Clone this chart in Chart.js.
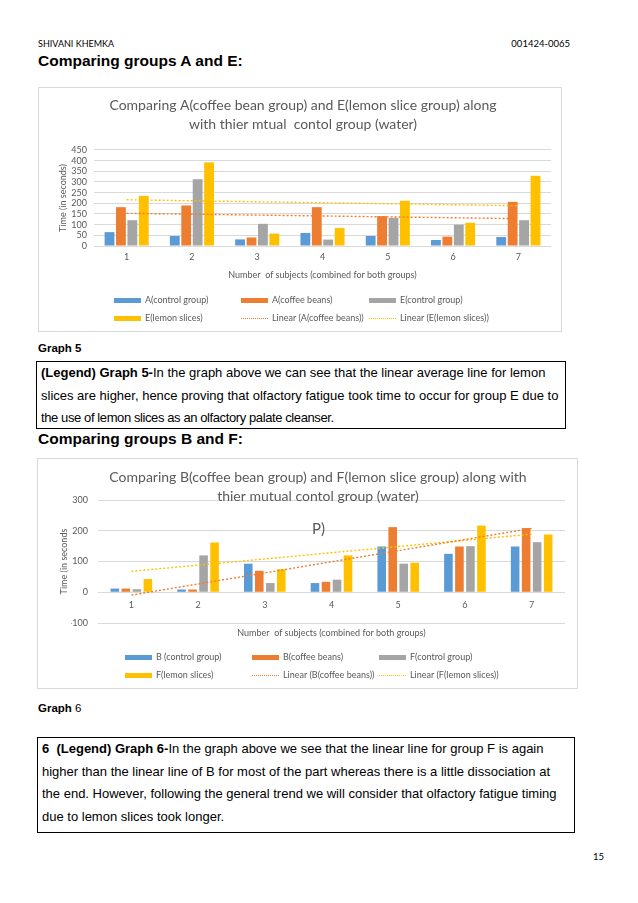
<!DOCTYPE html>
<html>
<head>
<meta charset="utf-8">
<script src="https://cdn.jsdelivr.net/npm/chart.js@4.4.1/dist/chart.umd.min.js"></script>
<style>
body { margin: 0; width: 638px; height: 903px; position: relative; overflow: hidden; background: #fff; font-family: "Liberation Sans", Arial, sans-serif; color: #000; }
.abs { position: absolute; white-space: nowrap; }
.small { font-family: Lato, "Open Sans", sans-serif; font-size: 9px; line-height: 12px; }
.head { font-weight: bold; font-size: 15.5px; line-height: 18px; }
.cap { font-size: 11.5px; line-height: 14px; }
.frame { position: absolute; border: 1px solid #d9d9d9; box-sizing: border-box; }
.frame canvas { position: absolute; left: 0; top: 0; }
.note { position: absolute; border: 1.3px solid #000; box-sizing: border-box; font-size: 13px; line-height: 22.6px; padding: 0 0 0 4px; }
.note div { white-space: nowrap; }
.lgi { position: absolute; height: 12px; line-height: 12px; font-family: Lato, "Open Sans", sans-serif; font-size: 9px; color: #595959; white-space: nowrap; display: flex; align-items: center; }
.sw { display: inline-block; width: 27px; height: 5px; margin-right: 4px; }
.sw.dot { height: 0; border-top: 1.3px dotted; }
.ptext { position: absolute; font-family: Lato, "Open Sans", sans-serif; font-size: 15px; color: #595959; }
</style>
</head>
<body>

<div class="abs small" style="left:38px; top:38px;">SHIVANI KHEMKA</div>
<div class="abs small" style="right:68px; top:38px; font-size:9.5px;">001424-0065</div>
<div class="abs head" style="left:38px; top:52px;">Comparing groups A and E:</div>

<div class="frame" style="left:38px; top:87px; width:524px; height:245px;">
  <canvas id="chart1" width="524" height="245"></canvas>
</div>
<div id="legend1"></div>

<div class="abs cap" style="left:38px; top:341px; font-weight:bold;">Graph 5</div>
<div class="note" style="left:36px; top:361px; width:530px; height:68px;">
  <div><b>(Legend) Graph 5-</b>In the graph above we can see that the linear average line for lemon</div>
  <div>slices are higher, hence proving that olfactory fatigue took time to occur for group E due to</div>
  <div style="letter-spacing:-0.4px;">the use of lemon slices as an olfactory palate cleanser.</div>
</div>

<div class="abs head" style="left:38px; top:430px;">Comparing groups B and F:</div>

<div class="frame" style="left:37px; top:458px; width:541px; height:231px;">
  <canvas id="chart2" width="541" height="231"></canvas>
</div>
<div class="ptext" style="left:312px; top:519px;">P)</div>
<div id="legend2"></div>

<div class="abs cap" style="left:38px; top:701px;"><b>Graph</b> 6</div>
<div class="note" style="left:37px; top:737px; width:538px; height:96px; padding-top:0;">
  <div><b>6&nbsp; (Legend) Graph 6-</b>In the graph above we see that the linear line for group F is again</div>
  <div>higher than the linear line of B for most of the part whereas there is a little dissociation at</div>
  <div>the end. However, following the general trend we will consider that olfactory fatigue timing</div>
  <div>due to lemon slices took longer.</div>
</div>

<div class="abs small" style="left:593px; top:851px; font-size:9.5px;">15</div>

<script>
const subjects = ['1', '2', '3', '4', '5', '6', '7'];

// Graph 5
const aControl = [65, 47, 31, 61, 47, 28, 42];
const aCoffee = [182, 190, 40, 182, 140, 44, 207];
const eControl = [121, 313, 104, 30, 132, 100, 121];
const eLemon = [235, 392, 58, 84, 212, 109, 329];
const yTicks1 = [0, 450, 50];

// Graph 6
const bControl = [12, 9, 93, 30, 149, 125, 149];
const bCoffee = [12, 9, 70, 34, 212, 149, 209];
const fControl = [10, 120, 30, 41, 93, 150, 163];
const fLemon = [43, 162, 75, 120, 96, 217, 188];
const yTicks2 = [-100, 300, 100];

const blue = '#5b9bd5', orange = '#ed7d31', grey = '#a5a5a5', yellow = '#ffc000';
const xTitle = 'Number  of subjects (combined for both groups)';

Chart.defaults.font.family = 'Lato, "Open Sans", sans-serif';
Chart.defaults.color = '#595959';
Chart.defaults.animation = false;

// least squares line, like the excel "Linear" trendline
function linear(values) {
  const n = values.length;
  let sx = 0, sy = 0, sxy = 0, sxx = 0;
  values.forEach((v, i) => { const x = i + 1; sx += x; sy += v; sxy += x * v; sxx += x * x; });
  const slope = (n * sxy - sx * sy) / (n * sxx - sx * sx);
  const b = (sy - slope * sx) / n;
  return values.map((v, i) => b + slope * (i + 1));
}

function bars(label, data, color) {
  return { type: 'bar', label: label, data: data, backgroundColor: color, order: 1 };
}

function trend(label, data, color) {
  return { type: 'line', label: label, data: linear(data), borderColor: color, borderWidth: 1.4,
           borderDash: [2, 2], pointRadius: 0, fill: false, order: 0 };
}

function legend(id, chart, cols, rows) {
  const box = document.getElementById(id);
  chart.data.datasets.forEach((ds, i) => {
    const item = document.createElement('div');
    item.className = 'lgi';
    item.style.left = cols[i % 3] + 'px';
    item.style.top = (rows[Math.floor(i / 3)] - 6) + 'px';
    const sw = document.createElement('span');
    if (ds.type === 'line') { sw.className = 'sw dot'; sw.style.borderTopColor = ds.borderColor; }
    else { sw.className = 'sw'; sw.style.background = ds.backgroundColor; }
    item.appendChild(sw);
    item.appendChild(document.createTextNode(ds.label));
    box.appendChild(item);
  });
}

const chart1 = new Chart(document.getElementById('chart1'), {
  type: 'bar',
  data: {
    labels: subjects,
    datasets: [
      bars('A(control group)', aControl, blue),
      bars('A(coffee beans)', aCoffee, orange),
      bars('E(control group)', eControl, grey),
      bars('E(lemon slices)', eLemon, yellow),
      trend('Linear (A(coffee beans))', aCoffee, orange),
      trend('Linear (E(lemon slices))', eLemon, yellow)
    ]
  },
  options: {
    responsive: false,
    layout: { padding: { left: 16, right: 12, bottom: 50 } },
    datasets: { bar: { categoryPercentage: 0.7, barPercentage: 0.86 } },
    plugins: {
      legend: { display: false },
      tooltip: { enabled: false },
      title: {
        display: true,
        text: ['Comparing A(coffee bean group) and E(lemon slice group) along', 'with thier mtual  contol group (water)'],
        font: { size: 14, weight: 'normal', lineHeight: 1.31 },
        padding: { top: 8.8, bottom: 16.5 }
      }
    },
    scales: {
      x: {
        grid: { display: false, drawTicks: false }, border: { display: false },
        ticks: { padding: 6, font: { size: 9 } },
        title: { display: true, text: xTitle, font: { size: 9 }, padding: { top: 6, bottom: 3 } },
        afterFit: s => { s.height = 37; }
      },
      y: {
        min: yTicks1[0], max: yTicks1[1],
        ticks: { stepSize: yTicks1[2], padding: 7, autoSkip: false, font: { size: 9, lineHeight: 1 } },
        grid: { color: '#d9d9d9', drawTicks: false }, border: { display: false },
        title: { display: true, text: 'Time (in seconds)', font: { size: 9 }, padding: { top: 2.6 } },
        afterFit: s => { s.width = 39; }
      }
    }
  }
});
legend('legend1', chart1, [114, 241, 369], [300, 318]);

const chart2 = new Chart(document.getElementById('chart2'), {
  type: 'bar',
  data: {
    labels: subjects,
    datasets: [
      bars('B (control group)', bControl, blue),
      bars('B(coffee beans)', bCoffee, orange),
      bars('F(control group)', fControl, grey),
      bars('F(lemon slices)', fLemon, yellow),
      trend('Linear (B(coffee beans))', bCoffee, orange),
      trend('Linear (F(lemon slices))', fLemon, yellow)
    ]
  },
  options: {
    responsive: false,
    layout: { padding: { left: 33, right: 14, bottom: 50 } },
    datasets: { bar: { categoryPercentage: 0.66, barPercentage: 0.78 } },
    plugins: {
      legend: { display: false },
      tooltip: { enabled: false },
      title: {
        display: true,
        text: ['Comparing B(coffee bean group) and F(lemon slice group) along with', 'thier mutual contol group (water)'],
        font: { size: 14, weight: 'normal', lineHeight: 1.31 },
        padding: { top: 9.5, bottom: -5.1 }
      }
    },
    scales: {
      x: {
        grid: { display: false, drawTicks: false }, border: { display: false },
        ticks: { display: false },
        title: { display: true, text: xTitle, font: { size: 9 }, padding: { top: 0, bottom: 1.6 } },
        afterFit: s => { s.height = 17; }
      },
      x2: {
        type: 'category', position: { y: 0 }, offset: true,
        grid: { display: false, drawTicks: false }, border: { display: false },
        ticks: { padding: 7, font: { size: 9 } }
      },
      y: {
        min: yTicks2[0], max: yTicks2[1],
        ticks: { stepSize: yTicks2[2], padding: 10, font: { size: 9 } },
        grid: { color: '#d9d9d9', drawTicks: false }, border: { display: false },
        title: { display: true, text: 'Time (in seconds', font: { size: 9 }, padding: { top: -12.4 } },
        afterFit: s => { s.width = 27; }
      }
    }
  }
});
legend('legend2', chart2, [125, 252, 379], [657, 675]);
</script>
</body>
</html>
